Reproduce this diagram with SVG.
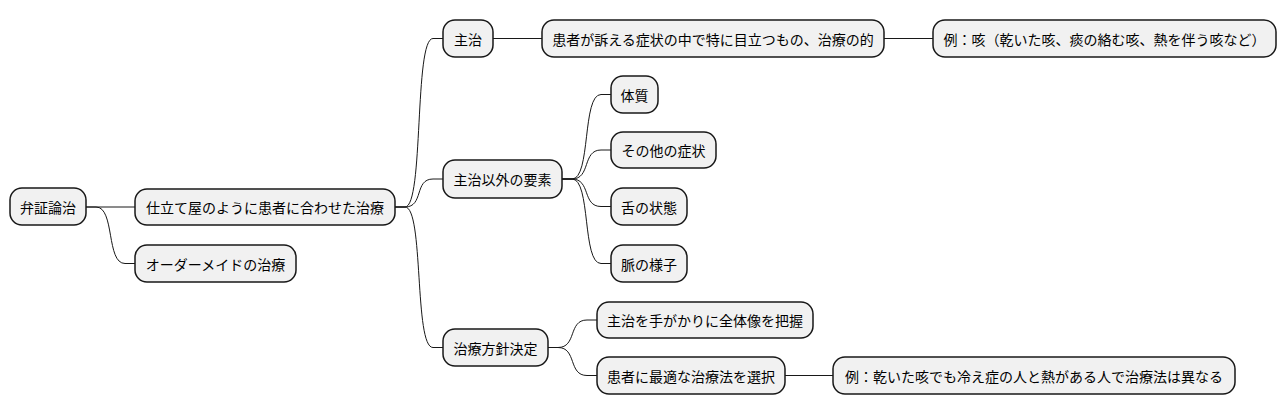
<svg xmlns="http://www.w3.org/2000/svg" width="1286" height="415" viewBox="0 0 1286 415">
<style>
.n rect{fill:#F1F1F1;stroke:#181818;stroke-width:1.5}
.n text{font-family:"Noto Sans CJK JP","Noto Sans",sans-serif;font-size:14px;fill:#000;text-anchor:middle;dominant-baseline:central}
#edges path{fill:none;stroke:#181818;stroke-width:1}
</style>
<rect width="1286" height="415" fill="#FFFFFF"/>
<g id="edges">
<path d="M86,207 L135,207"/>
<path d="M86,207 L96,207 C115,207 106,263.5 125,263.5 L135,263.5"/>
<path d="M395,207 L405,207 C424,207 414,38.5 433,38.5 L443,38.5"/>
<path d="M395,207 L405,207 C424,207 414,179 433,179 L443,179"/>
<path d="M395,207 L405,207 C424,207 414,347.5 433,347.5 L443,347.5"/>
<path d="M493,38.5 L542,38.5"/>
<path d="M884,38.5 L933,38.5"/>
<path d="M562,179 L572,179 C591,179 582,94.5 601,94.5 L611,94.5"/>
<path d="M562,179 L572,179 C591,179 582,150 601,150 L611,150"/>
<path d="M562,179 L572,179 C591,179 582,206.5 601,206.5 L611,206.5"/>
<path d="M562,179 L572,179 C591,179 582,263.5 601,263.5 L611,263.5"/>
<path d="M548,347.5 L558,347.5 C577,347.5 568,320 587,320 L597,320"/>
<path d="M548,347.5 L558,347.5 C577,347.5 568,375.5 587,375.5 L597,375.5"/>
<path d="M785,375.5 L833,375.5"/>
</g>
<g id="root" class="n"><rect x="10" y="188" width="76" height="37" rx="12"/><text x="48" y="206.5">弁証論治</text></g>
<g id="n1" class="n"><rect x="135" y="189" width="260" height="36" rx="12"/><text x="265" y="207">仕立て屋のように患者に合わせた治療</text></g>
<g id="n2" class="n"><rect x="135" y="245" width="161" height="37" rx="12"/><text x="215.5" y="263.5">オーダーメイドの治療</text></g>
<g id="a" class="n"><rect x="443" y="20" width="50" height="37" rx="12"/><text x="468" y="38.5">主治</text></g>
<g id="a1" class="n"><rect x="542" y="20" width="342" height="37" rx="12"/><text x="713" y="38.5">患者が訴える症状の中で特に目立つもの、治療の的</text></g>
<g id="a2" class="n"><rect x="933" y="20" width="343" height="37" rx="12"/><text x="1104.5" y="38.5">例：咳（乾いた咳、痰の絡む咳、熱を伴う咳など）</text></g>
<g id="b" class="n"><rect x="443" y="160" width="119" height="38" rx="12"/><text x="502.5" y="179">主治以外の要素</text></g>
<g id="b1" class="n"><rect x="611" y="76" width="47" height="37" rx="12"/><text x="634.5" y="94.5">体質</text></g>
<g id="b2" class="n"><rect x="611" y="132" width="105" height="36" rx="12"/><text x="663.5" y="150">その他の症状</text></g>
<g id="b3" class="n"><rect x="611" y="188" width="76" height="37" rx="12"/><text x="649" y="206.5">舌の状態</text></g>
<g id="b4" class="n"><rect x="611" y="245" width="76" height="37" rx="12"/><text x="649" y="263.5">脈の様子</text></g>
<g id="c" class="n"><rect x="443" y="329" width="105" height="37" rx="12"/><text x="495.5" y="347.5">治療方針決定</text></g>
<g id="c1" class="n"><rect x="597" y="302" width="216" height="36" rx="12"/><text x="705" y="320">主治を手がかりに全体像を把握</text></g>
<g id="c2" class="n"><rect x="597" y="357" width="188" height="37" rx="12"/><text x="691" y="375.5">患者に最適な治療法を選択</text></g>
<g id="c3" class="n"><rect x="833" y="357" width="402" height="37" rx="12"/><text x="1034" y="375.5">例：乾いた咳でも冷え症の人と熱がある人で治療法は異なる</text></g>
</svg>
